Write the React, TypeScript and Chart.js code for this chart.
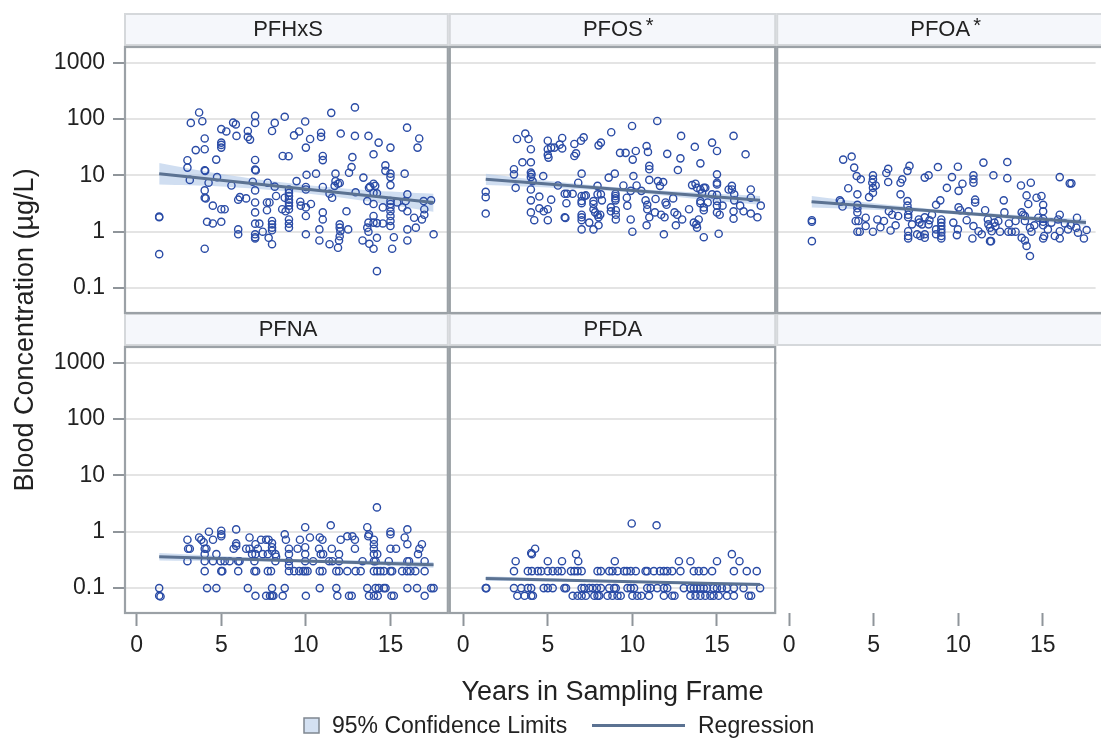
import { useEffect, useRef } from "react";
import { Chart, registerables } from "chart.js";

Chart.register(...registerables);

const FONT = '"Liberation Sans", Arial, Helvetica, sans-serif';
const TEXT = "#222222";
const MARKER = "#2b4ca6";
const FIT_LINE = "#5b7292";
const BAND_FILL = "rgba(176, 200, 232, 0.6)";
const GRID = "#e4e4e4";
const FRAME = "#9ba1a6";
const STRIP_FILL = "#f5f7fb";
const STRIP_EDGE = "#d5d8db";
const TICK_MARK = "#8f959a";

const WIDTH = 1101;
const HEIGHT = 738;
const STRIP_H = 34;

// Axis ticks
const Y_TICKS = [0.1, 1, 10, 100, 1000];
const X_TICKS = [0, 5, 10, 15];

// Visible year range of each panel column
const COLUMN_YEARS: [number, number][] = [
  [-0.75, 18.45],
  [-0.85, 18.5],
  [-0.76, 18.12],
];
// Concentration range of each panel row (row 2 also spans its strip)
const ROW1_RANGE: [number, number] = [0.0362, 1884];
const ROW2_RANGE: [number, number] = [0.0362, 7550];

// [years, µg/L]
const PFHXS_POINTS: [number, number][] = [
  [1.33, 1.85], [1.33, 1.8], [1.33, 0.4], [3.0, 18.5], [3.0, 13.7], [3.14, 8.3], [3.2, 85], [3.69, 130],
  [3.88, 91], [3.49, 28], [4.02, 45], [4.02, 29], [4.02, 12.3], [4.05, 12.0], [4.02, 5.4], [4.02, 4.0],
  [4.08, 3.9], [4.25, 7.4], [4.16, 1.5], [4.02, 0.5], [4.5, 2.9], [4.5, 1.4], [4.75, 9.3], [4.7, 19],
  [5.0, 38], [5.0, 34.6], [5.0, 31], [5.0, 1.5], [5.0, 2.5], [5.2, 2.5], [5.3, 60], [5.0, 66],
  [5.6, 6.6], [5.7, 86], [5.86, 80], [5.9, 50], [6.0, 1.1], [6.0, 0.9], [6.0, 3.7], [6.1, 4.1],
  [6.47, 3.9], [6.57, 61], [6.57, 48], [6.7, 43], [7.0, 113], [7.0, 85], [7.0, 18.7], [7.0, 12.6],
  [7.04, 12.2], [7.0, 5.4], [7.0, 3.3], [7.0, 2.2], [6.86, 7.7], [7.0, 1.39], [7.25, 1.39], [7.0, 0.9],
  [7.0, 0.8], [7.0, 0.76], [7.45, 1.0], [7.74, 7.4], [7.7, 3.3], [7.85, 3.3], [7.7, 2.4], [7.8, 0.78],
  [8.0, 61], [8.16, 85], [8.16, 6.3], [8.24, 4.3], [8.0, 1.55], [8.0, 1.35], [8.0, 1.18], [8.0, 1.06],
  [8.0, 0.6], [8.63, 22], [8.98, 21.8], [8.75, 109], [8.75, 4.0], [8.6, 2.5], [8.8, 2.3], [9.0, 5.6],
  [9.0, 4.9], [9.0, 4.3], [9.0, 3.7], [9.0, 3.3], [9.0, 2.9], [9.0, 2.5], [9.0, 1.65], [9.0, 1.39],
  [9.0, 1.18], [9.3, 51], [9.6, 60], [9.45, 7.9], [9.67, 3.4], [9.7, 2.9], [9.96, 90], [10.0, 31],
  [10.25, 44], [10.0, 6.2], [10.0, 5.6], [10.0, 2.7], [10.0, 1.9], [10.0, 0.9], [10.04, 10.2], [10.3, 3.1],
  [10.6, 10.7], [10.9, 57], [10.9, 48], [11.0, 22], [11.0, 18.6], [11.0, 6.2], [11.0, 2.2], [11.0, 1.65],
  [10.8, 1.1], [10.8, 0.7], [11.5, 128], [11.4, 4.7], [11.55, 4.0], [11.4, 0.6], [11.75, 10.7], [11.75, 7.9],
  [11.9, 7.1], [12.0, 7.3], [11.7, 6.5], [11.9, 0.52], [12.0, 1.35], [12.0, 1.18], [12.04, 1.02], [12.0, 0.83],
  [11.96, 0.7], [12.06, 55], [12.4, 2.3], [12.5, 1.1], [12.75, 21], [12.7, 14], [12.55, 11.1], [12.9, 160],
  [12.9, 50], [12.94, 5.0], [13.4, 9.1], [13.7, 50], [13.35, 0.7], [13.63, 3.5], [13.73, 6.0], [13.8, 6.3],
  [14.0, 23.6], [14.3, 38], [14.0, 7.1], [14.1, 6.5], [14.0, 4.9], [14.2, 4.8], [14.0, 3.1], [14.0, 1.9],
  [13.7, 1.45], [13.63, 1.18], [13.7, 1.0], [14.0, 1.45], [14.2, 1.42], [13.75, 0.61], [14.0, 0.5], [14.2, 0.78],
  [14.2, 0.2], [14.55, 1.4], [14.55, 2.7], [14.7, 15], [14.7, 12], [15.0, 31], [15.0, 10.7], [15.0, 9.3],
  [15.0, 6.7], [15.0, 3.5], [15.0, 3.1], [15.0, 2.7], [15.0, 2.3], [15.0, 1.9], [15.0, 1.55], [15.0, 1.26],
  [15.1, 0.5], [15.2, 0.8], [15.4, 3.3], [15.7, 2.7], [15.84, 10.7], [15.98, 70], [16.0, 4.6], [15.9, 3.5],
  [16.0, 2.3], [16.0, 1.1], [16.0, 0.7], [16.4, 1.77], [16.5, 1.18], [16.7, 45], [16.6, 31], [16.86, 1.65],
  [17.0, 2.5], [17.0, 2.0], [16.96, 3.5], [17.4, 3.6], [17.55, 0.9],
];

const PFOS_POINTS: [number, number][] = [
  [1.33, 5.1], [1.33, 4.1], [1.33, 2.1], [3.18, 44], [3.0, 12.8], [3.0, 10.4], [3.1, 6.0], [3.5, 17],
  [3.67, 55], [3.86, 44], [4.0, 29], [4.0, 17], [4.0, 11.2], [4.04, 10.4], [4.0, 9.3], [4.1, 7.9],
  [4.0, 5.6], [4.0, 3.6], [4.0, 2.2], [4.2, 1.6], [4.5, 4.2], [4.5, 2.6], [4.76, 2.3], [5.0, 2.5],
  [4.73, 9.7], [5.0, 41], [5.0, 29], [5.0, 23], [5.04, 20.6], [5.2, 31], [5.39, 31], [5.0, 1.6],
  [5.2, 3.7], [5.6, 6.6], [5.85, 46], [5.85, 30], [5.7, 35], [6.0, 4.7], [6.14, 4.7], [6.0, 1.8],
  [6.04, 1.75], [6.1, 3.2], [6.47, 4.7], [6.57, 36], [7.12, 47], [6.96, 41], [6.57, 22], [6.67, 24.5],
  [6.8, 7.4], [7.0, 10.7], [7.0, 4.3], [7.0, 3.5], [7.0, 3.2], [7.16, 4.3], [7.0, 2.0], [7.0, 1.8],
  [7.0, 1.6], [7.0, 1.1], [7.25, 4.4], [7.45, 1.45], [7.7, 3.5], [7.7, 3.1], [7.7, 2.5], [7.8, 2.2],
  [7.7, 1.1], [7.94, 4.6], [8.14, 4.6], [8.0, 34], [8.14, 38], [7.94, 6.5], [7.94, 2.0], [8.1, 2.0],
  [8.0, 1.8], [8.0, 1.3], [8.2, 3.6], [8.6, 9.1], [8.73, 2.7], [8.73, 2.3], [8.75, 58], [8.96, 10.7],
  [9.0, 4.7], [9.0, 4.3], [9.0, 3.9], [9.0, 3.6], [9.02, 2.4], [9.02, 2.0], [9.02, 1.65], [9.27, 25],
  [9.6, 25], [9.47, 6.6], [9.67, 4.0], [9.7, 2.9], [9.98, 75], [10.02, 19], [10.06, 9.7], [9.9, 5.3],
  [9.9, 1.65], [10.0, 1.0], [10.2, 27], [10.25, 6.6], [10.53, 5.3], [10.78, 3.6], [10.88, 3.0], [10.88, 2.5],
  [10.84, 33], [10.92, 26], [11.0, 14.7], [11.0, 12.8], [11.0, 8.3], [11.0, 1.8], [10.84, 1.3], [11.37, 3.8],
  [11.33, 2.2], [11.47, 92], [11.51, 7.9], [11.63, 6.5], [11.82, 7.6], [11.7, 2.0], [11.9, 1.8], [11.96, 3.3],
  [12.02, 3.0], [11.86, 0.9], [12.06, 24], [12.41, 3.9], [12.49, 2.2], [12.65, 2.0], [12.69, 12.4], [12.84, 20],
  [12.88, 50], [12.94, 1.65], [12.57, 1.3], [13.35, 2.5], [13.53, 6.7], [13.73, 7.1], [13.82, 6.0], [13.69, 32],
  [14.02, 16.3], [13.63, 1.45], [13.82, 1.18], [13.78, 1.35], [14.02, 5.6], [14.12, 4.9], [14.02, 3.5], [14.02, 3.2],
  [14.22, 2.7], [14.22, 2.4], [14.22, 6.0], [14.31, 6.0], [13.92, 1.65], [14.22, 0.8], [14.45, 3.3], [14.71, 38],
  [15.0, 27], [15.0, 10.4], [15.0, 7.4], [15.0, 6.9], [15.0, 4.5], [15.0, 3.5], [15.0, 2.9], [15.0, 2.2],
  [15.16, 2.0], [14.71, 4.6], [15.1, 0.92], [15.33, 2.9], [15.69, 5.6], [15.88, 6.5], [15.88, 5.6], [15.98, 50],
  [16.02, 4.6], [16.02, 3.6], [15.98, 2.3], [15.98, 1.7], [16.37, 2.9], [16.57, 2.3], [16.69, 23.6], [17.0, 5.6],
  [17.0, 4.0], [17.0, 2.1], [17.39, 1.8], [17.59, 2.9],
];

const PFOA_POINTS: [number, number][] = [
  [1.35, 1.6], [1.35, 1.5], [1.35, 0.68], [3.2, 19], [3.7, 21.5], [3.85, 13.7], [3.5, 5.9], [3.0, 3.6],
  [3.06, 3.4], [3.16, 2.8], [4.0, 9.7], [4.24, 8.5], [4.04, 4.6], [4.04, 3.0], [4.04, 2.6], [4.04, 2.2],
  [3.94, 1.55], [4.1, 1.55], [4.04, 1.0], [4.18, 1.0], [4.53, 1.77], [4.53, 1.26], [4.73, 4.1], [4.96, 10],
  [4.96, 8.5], [4.92, 7.4], [4.96, 6.0], [4.96, 4.9], [5.12, 6.6], [4.96, 1.0], [5.22, 1.65], [5.61, 1.55],
  [5.75, 11], [5.86, 13], [5.86, 7.6], [6.0, 1.05], [6.1, 2.0], [6.45, 1.9], [6.59, 4.6], [6.59, 7.4],
  [6.69, 8.5], [7.0, 12], [7.12, 14.7], [7.0, 3.5], [7.0, 2.9], [7.08, 2.4], [7.04, 2.0], [7.04, 1.8],
  [7.04, 1.02], [7.04, 0.84], [7.04, 0.76], [7.27, 1.35], [7.67, 1.65], [7.71, 1.45], [7.86, 1.35], [7.57, 0.9],
  [7.76, 0.84], [8.02, 9.1], [8.25, 10], [8.02, 1.8], [8.02, 0.9], [8.02, 0.78], [8.25, 1.35], [8.45, 2.0],
  [8.69, 3.0], [8.8, 14], [8.94, 3.6], [9.0, 1.65], [9.0, 1.45], [9.0, 1.26], [9.0, 1.1], [9.0, 0.97],
  [9.0, 0.84], [9.0, 0.76], [8.69, 1.1], [8.69, 0.9], [9.33, 6.0], [9.63, 9.3], [9.71, 1.45], [9.92, 0.87],
  [9.98, 14.2], [10.02, 5.3], [10.02, 2.7], [10.12, 2.4], [9.98, 1.1], [10.25, 7.1], [10.61, 2.3], [10.9, 10],
  [10.9, 8.5], [10.9, 7.4], [11.0, 3.7], [11.0, 3.3], [10.9, 1.26], [10.84, 0.76], [11.2, 1.02], [11.39, 0.9],
  [11.49, 16.8], [11.59, 2.4], [11.75, 1.65], [11.78, 1.35], [11.88, 1.18], [11.98, 1.02], [11.88, 0.68], [11.94, 0.68],
  [12.08, 10], [12.14, 1.45], [12.37, 1.55], [12.47, 1.0], [12.69, 3.6], [12.73, 2.2], [12.9, 17.2], [12.9, 8.9],
  [12.96, 1.0], [13.16, 1.0], [13.39, 1.0], [13.39, 1.55], [13.71, 6.6], [13.75, 2.2], [13.84, 2.0], [13.94, 1.9],
  [13.75, 0.78], [13.94, 0.7], [14.04, 0.56], [14.24, 0.37], [14.04, 4.4], [14.14, 3.1], [14.29, 7.4], [13.94, 1.55],
  [14.24, 1.18], [14.33, 1.0], [14.63, 4.0], [14.92, 4.3], [15.02, 3.0], [15.02, 2.3], [15.02, 1.7], [15.02, 1.5],
  [15.02, 1.3], [15.02, 0.76], [15.08, 0.84], [14.73, 1.77], [15.51, 1.45], [15.71, 0.84], [16.0, 9.3], [16.0, 2.0],
  [16.0, 1.02], [16.0, 0.76], [15.9, 1.65], [16.59, 7.2], [16.69, 7.2], [16.49, 1.1], [16.65, 1.3], [17.02, 1.77],
  [16.98, 1.18], [17.08, 0.96], [17.43, 0.76], [17.59, 1.07], [5.4, 1.2], [6.3, 1.3], [10.5, 1.6], [12.2, 1.25],
  [13.0, 1.4], [14.5, 1.3], [15.3, 1.1], [16.3, 1.4], [8.3, 1.6], [5.9, 2.3],
];

const PFNA_POINTS: [number, number][] = [
  [1.33, 0.1], [1.33, 0.073], [1.41, 0.071], [3.0, 0.72], [3.04, 0.5], [3.14, 0.5], [3.0, 0.3], [3.69, 0.79],
  [3.82, 0.72], [3.96, 0.65], [4.02, 0.5], [4.12, 0.5], [4.02, 0.4], [4.02, 0.3], [4.02, 0.2], [4.16, 0.1],
  [4.71, 0.1], [4.27, 1.0], [4.51, 0.72], [4.71, 0.4], [4.51, 0.3], [5.0, 1.04], [5.0, 0.9], [5.0, 0.83],
  [4.96, 0.3], [5.2, 0.3], [5.49, 0.3], [5.0, 0.2], [5.06, 0.2], [5.73, 0.5], [5.88, 0.56], [5.88, 0.62],
  [5.88, 1.1], [6.0, 0.3], [6.08, 0.3], [6.0, 0.2], [6.47, 0.5], [6.67, 0.5], [6.57, 0.1], [6.67, 0.79],
  [6.82, 0.4], [7.02, 0.4], [7.02, 0.6], [7.16, 0.5], [6.96, 0.3], [6.96, 0.2], [7.06, 0.2], [7.02, 0.073],
  [7.35, 0.72], [7.65, 0.72], [7.8, 0.72], [7.45, 0.4], [7.75, 0.4], [7.65, 0.073], [7.88, 0.073], [7.75, 0.2],
  [7.94, 0.2], [8.0, 0.63], [8.0, 0.53], [8.0, 0.46], [8.0, 0.1], [8.0, 0.073], [8.08, 0.073], [8.2, 0.4],
  [8.24, 0.36], [8.2, 0.3], [8.63, 0.073], [8.75, 0.9], [8.75, 0.1], [8.82, 0.72], [9.0, 0.5], [9.0, 0.4],
  [9.0, 0.3], [9.0, 0.25], [9.0, 0.2], [9.31, 0.2], [9.61, 0.2], [9.84, 0.2], [9.51, 0.5], [9.65, 0.72],
  [9.96, 1.2], [9.96, 0.53], [9.96, 0.4], [9.96, 0.3], [9.96, 0.2], [10.1, 0.2], [10.0, 0.073], [10.24, 0.79],
  [10.43, 0.3], [10.82, 0.79], [10.98, 0.72], [10.78, 0.5], [10.88, 0.4], [11.02, 0.4], [10.82, 0.1], [10.82, 0.2],
  [10.98, 0.2], [11.37, 0.3], [11.57, 0.3], [11.47, 1.3], [11.53, 0.5], [11.8, 0.2], [11.96, 0.2], [11.8, 0.1],
  [11.86, 0.073], [11.96, 0.4], [11.96, 0.3], [12.06, 0.72], [12.45, 0.2], [12.45, 0.83], [12.75, 0.83], [12.9, 0.72],
  [12.55, 0.073], [12.71, 0.073], [12.9, 0.5], [12.94, 0.2], [13.24, 0.2], [13.35, 0.3], [13.63, 1.2], [13.73, 0.9],
  [13.69, 0.83], [13.63, 0.1], [13.73, 0.073], [14.02, 0.72], [14.02, 0.6], [14.02, 0.5], [14.02, 0.4], [14.22, 0.4],
  [14.02, 0.3], [14.12, 0.3], [14.02, 0.2], [14.22, 0.2], [14.41, 0.2], [14.61, 0.2], [14.12, 0.1], [14.31, 0.1],
  [14.61, 0.1], [14.71, 0.1], [14.02, 0.073], [14.25, 0.073], [14.2, 2.7], [14.9, 0.3], [15.0, 1.0], [15.0, 0.9],
  [15.0, 0.5], [15.0, 0.2], [15.1, 0.2], [15.06, 0.073], [15.2, 0.073], [15.33, 0.5], [15.69, 0.2], [15.98, 0.2],
  [16.18, 0.2], [16.47, 0.2], [16.0, 1.1], [15.84, 0.79], [16.0, 0.6], [16.0, 0.3], [16.1, 0.3], [16.0, 0.1],
  [16.57, 0.1], [16.63, 0.4], [16.71, 0.5], [16.86, 0.6], [17.02, 0.3], [17.02, 0.2], [17.02, 0.073], [17.41, 0.1],
  [17.55, 0.1],
];

const PFDA_POINTS: [number, number][] = [
  [1.33, 0.1], [1.37, 0.1], [3.0, 0.1], [3.2, 0.073], [3.43, 0.1], [3.63, 0.073], [3.82, 0.1], [4.02, 0.1],
  [4.12, 0.073], [4.02, 0.073], [3.1, 0.3], [3.0, 0.2], [3.82, 0.2], [4.06, 0.2], [4.41, 0.2], [4.61, 0.2],
  [4.06, 0.4], [4.02, 0.42], [4.25, 0.5], [4.76, 0.1], [5.0, 0.1], [5.29, 0.1], [5.0, 0.3], [5.0, 0.2],
  [5.29, 0.2], [5.59, 0.2], [5.82, 0.2], [5.84, 0.3], [5.98, 0.1], [6.08, 0.1], [6.47, 0.073], [6.76, 0.073],
  [6.67, 0.4], [6.8, 0.3], [6.37, 0.2], [6.57, 0.2], [6.76, 0.2], [7.0, 0.2], [7.0, 0.1], [7.16, 0.1],
  [7.45, 0.1], [7.65, 0.1], [7.9, 0.1], [8.14, 0.1], [7.0, 0.073], [7.25, 0.073], [7.75, 0.073], [7.94, 0.073],
  [8.04, 0.073], [7.94, 0.2], [8.14, 0.2], [8.63, 0.2], [8.82, 0.2], [9.12, 0.2], [9.51, 0.2], [8.63, 0.1],
  [8.92, 0.1], [9.02, 0.1], [8.53, 0.073], [8.82, 0.073], [9.12, 0.073], [9.31, 0.073], [8.96, 0.3], [9.71, 0.1],
  [9.9, 0.1], [10.1, 0.1], [9.67, 0.2], [9.9, 0.2], [10.2, 0.2], [9.96, 1.4], [10.0, 0.073], [10.29, 0.073],
  [10.53, 0.073], [10.98, 0.073], [10.78, 0.2], [10.88, 0.2], [11.27, 0.2], [11.63, 0.2], [11.86, 0.2], [12.06, 0.2],
  [10.88, 0.1], [11.08, 0.1], [11.47, 0.1], [11.86, 0.1], [12.06, 0.1], [11.43, 1.3], [11.86, 0.073], [12.35, 0.073],
  [12.49, 0.073], [12.35, 0.2], [12.84, 0.2], [12.75, 0.3], [13.04, 0.1], [13.43, 0.1], [13.43, 0.3], [13.63, 0.2],
  [13.92, 0.2], [14.22, 0.2], [14.71, 0.2], [13.63, 0.1], [13.82, 0.1], [14.02, 0.1], [14.22, 0.1], [14.41, 0.1],
  [14.8, 0.1], [15.0, 0.1], [15.29, 0.1], [13.43, 0.073], [13.73, 0.073], [14.02, 0.073], [14.31, 0.073], [14.61, 0.073],
  [14.8, 0.073], [15.1, 0.073], [15.0, 0.3], [15.88, 0.4], [16.33, 0.3], [16.0, 0.2], [16.76, 0.2], [17.35, 0.2],
  [15.59, 0.1], [16.0, 0.1], [16.57, 0.1], [17.55, 0.1], [15.59, 0.073], [16.0, 0.073], [16.88, 0.073], [17.02, 0.073],
];

// Regression fits (end points) and 95% confidence limits
const FIT_YEARS = [1.33, 17.55];
const BAND_YEARS = [1.33, 5, 9.4, 13.5, 17.55];

const PFHXS_FIT = [10.7, 3.3];
const PFHXS_LOW = [6.9, 6.35, 5.0, 3.5, 2.25];
const PFHXS_HIGH = [16.6, 10.5, 7.0, 5.5, 4.7];

const PFOS_FIT = [8.5, 3.6];
const PFOS_LOW = [6.75, 6.1, 5.1, 3.9, 3.0];
const PFOS_HIGH = [10.7, 8.0, 6.0, 5.0, 4.3];

const PFOA_FIT = [3.4, 1.45];
const PFOA_LOW = [2.7, 2.45, 2.08, 1.64, 1.28];
const PFOA_HIGH = [4.3, 3.2, 2.4, 1.97, 1.64];

const PFNA_FIT = [0.36, 0.26];
const PFNA_LOW = [0.31, 0.3, 0.29, 0.26, 0.23];
const PFNA_HIGH = [0.42, 0.37, 0.325, 0.31, 0.29];

const PFDA_FIT = [0.148, 0.116];
const PFDA_LOW = [0.135, 0.131, 0.127, 0.117, 0.108];
const PFDA_HIGH = [0.162, 0.15, 0.135, 0.13, 0.124];

type Panel = {
  name: string;
  starred: boolean;
  col: number;
  row: number;
  points: [number, number][];
  fit: number[];
  low: number[];
  high: number[];
};

const PANELS: Panel[] = [
  { name: "PFHxS", starred: false, col: 0, row: 0, points: PFHXS_POINTS, fit: PFHXS_FIT, low: PFHXS_LOW, high: PFHXS_HIGH },
  { name: "PFOS", starred: true, col: 1, row: 0, points: PFOS_POINTS, fit: PFOS_FIT, low: PFOS_LOW, high: PFOS_HIGH },
  { name: "PFOA", starred: true, col: 2, row: 0, points: PFOA_POINTS, fit: PFOA_FIT, low: PFOA_LOW, high: PFOA_HIGH },
  { name: "PFNA", starred: false, col: 0, row: 1, points: PFNA_POINTS, fit: PFNA_FIT, low: PFNA_LOW, high: PFNA_HIGH },
  { name: "PFDA", starred: false, col: 1, row: 1, points: PFDA_POINTS, fit: PFDA_FIT, low: PFDA_LOW, high: PFDA_HIGH },
];

function buildDatasets() {
  const sets: any[] = [];
  for (const p of PANELS) {
    const xAxisID = `x${p.col + 1}`;
    const yAxisID = `y${p.row + 1}`;
    sets.push(
      {
        type: "line",
        data: BAND_YEARS.map((x, i) => ({ x, y: p.low[i] })),
        xAxisID,
        yAxisID,
        borderWidth: 0,
        borderColor: "rgba(0,0,0,0)",
        pointRadius: 0,
        fill: false,
        tension: 0.35,
        order: 3,
      },
      {
        type: "line",
        data: BAND_YEARS.map((x, i) => ({ x, y: p.high[i] })),
        xAxisID,
        yAxisID,
        borderWidth: 0,
        borderColor: "rgba(0,0,0,0)",
        backgroundColor: BAND_FILL,
        pointRadius: 0,
        fill: "-1",
        tension: 0.35,
        order: 3,
      },
      {
        type: "scatter",
        data: p.points.map(([x, y]) => ({ x, y })),
        xAxisID,
        yAxisID,
        pointStyle: "circle",
        pointRadius: 3.6,
        pointBorderWidth: 1.4,
        pointBorderColor: MARKER,
        pointBackgroundColor: "rgba(0,0,0,0)",
        order: 2,
      },
      {
        type: "line",
        data: FIT_YEARS.map((x, i) => ({ x, y: p.fit[i] })),
        xAxisID,
        yAxisID,
        borderColor: FIT_LINE,
        borderWidth: 3,
        pointRadius: 0,
        fill: false,
        order: 1,
      }
    );
  }
  return sets;
}

function xScale(col: number) {
  const [min, max] = COLUMN_YEARS[col];
  return {
    type: "linear",
    position: "bottom",
    stack: "columns",
    stackWeight: max - min,
    min,
    max,
    afterBuildTicks: (s: any) => {
      s.ticks = X_TICKS.map((value) => ({ value }));
    },
    afterFit: (s: any) => {
      s.height = 60;
    },
    grid: {
      drawOnChartArea: false,
      drawTicks: true,
      tickLength: 13,
      tickColor: TICK_MARK,
      tickWidth: 2,
    },
    border: { display: false },
    ticks: {
      font: { family: FONT, size: 23 },
      color: TEXT,
      padding: 6,
      maxRotation: 0,
      autoSkip: false,
      callback: (v: any) => String(v),
    },
  };
}

function yScale(row: number) {
  const [min, max] = row === 0 ? ROW1_RANGE : ROW2_RANGE;
  return {
    type: "logarithmic",
    position: "left",
    stack: "rows",
    stackWeight: row === 0 ? 266 : 300,
    weight: row === 0 ? 1 : 0,
    min,
    max,
    afterBuildTicks: (s: any) => {
      s.ticks = Y_TICKS.map((value) => ({ value }));
    },
    afterFit: (s: any) => {
      s.width = 124;
    },
    grid: {
      color: GRID,
      lineWidth: 2,
      drawTicks: true,
      tickLength: 11,
      tickColor: TICK_MARK,
      tickWidth: 2,
    },
    border: { display: false },
    ticks: {
      font: { family: FONT, size: 23 },
      color: TEXT,
      padding: 8,
      autoSkip: false,
      callback: (v: any) => String(v),
    },
  };
}

const panelDecor = {
  id: "panelDecor",
  beforeDatasetsDraw(chart: any) {
    // the sixth cell stays blank
    const { ctx } = chart;
    const x3 = chart.scales.x3;
    const y2 = chart.scales.y2;
    ctx.save();
    ctx.fillStyle = "#ffffff";
    ctx.fillRect(x3.left + 1, y2.top + STRIP_H - 1, WIDTH - x3.left, y2.bottom - y2.top - STRIP_H + 1);
    ctx.restore();
  },
  afterDraw(chart: any) {
    const { ctx } = chart;
    const cols = ["x1", "x2", "x3"].map((id) => chart.scales[id]);
    const y1 = chart.scales.y1;
    const y2 = chart.scales.y2;
    const rows = [
      { top: y1.top, bottom: y1.bottom, stripTop: y1.top - STRIP_H },
      { top: y2.top + STRIP_H, bottom: y2.bottom, stripTop: y2.top },
    ];
    const colRight = (c: number) => (c === 2 ? cols[c].right + 8 : cols[c].right);

    ctx.save();
    // header strips
    rows.forEach((r) => {
      cols.forEach((col: any, c: number) => {
        const l = col.left + 1;
        const w = colRight(c) - col.left - 2;
        ctx.fillStyle = STRIP_FILL;
        ctx.fillRect(l, r.stripTop + 1, w, STRIP_H - 3);
        ctx.strokeStyle = STRIP_EDGE;
        ctx.lineWidth = 2;
        ctx.strokeRect(l, r.stripTop + 1, w, STRIP_H - 3);
      });
    });

    // panel frames
    ctx.strokeStyle = FRAME;
    ctx.lineWidth = 2.2;
    rows.forEach((r, ri) => {
      cols.forEach((col: any, c: number) => {
        if (ri === 1 && c === 2) return;
        ctx.strokeRect(col.left + 1, r.top, colRight(c) - col.left - 2, r.bottom - r.top);
      });
    });

    // header labels
    ctx.fillStyle = TEXT;
    ctx.textAlign = "center";
    ctx.textBaseline = "alphabetic";
    PANELS.forEach((p) => {
      const col = cols[p.col];
      const cx = col.left + 164;
      const base = rows[p.row].stripTop + 23;
      ctx.font = `22px ${FONT}`;
      ctx.fillText(p.name, cx, base);
      if (p.starred) {
        const w = ctx.measureText(p.name).width;
        ctx.font = `20px ${FONT}`;
        ctx.textAlign = "left";
        ctx.fillText("*", cx + w / 2 + 3, base - 4);
        ctx.textAlign = "center";
      }
    });

    // axis titles
    ctx.font = `27px ${FONT}`;
    ctx.textAlign = "center";
    ctx.fillText("Years in Sampling Frame", (cols[1].left + cols[1].right) / 2, 700);
    ctx.save();
    ctx.translate(33, (y1.top + y2.bottom) / 2);
    ctx.rotate(-Math.PI / 2);
    ctx.fillText("Blood Concentration (\u00b5g/L)", 0, 0);
    ctx.restore();

    // legend
    ctx.fillStyle = "#d4e1f2";
    ctx.fillRect(304, 718, 15, 15);
    ctx.strokeStyle = "#7f8790";
    ctx.lineWidth = 1.5;
    ctx.strokeRect(304, 718, 15, 15);
    ctx.fillStyle = TEXT;
    ctx.font = `23px ${FONT}`;
    ctx.textAlign = "left";
    ctx.fillText("95% Confidence Limits", 332, 733);
    ctx.strokeStyle = FIT_LINE;
    ctx.lineWidth = 3;
    ctx.beginPath();
    ctx.moveTo(592, 725.5);
    ctx.lineTo(685, 725.5);
    ctx.stroke();
    ctx.fillText("Regression", 698, 733);
    ctx.restore();
  },
};

export default function App() {
  const canvasRef = useRef<HTMLCanvasElement>(null);

  useEffect(() => {
    const canvas = canvasRef.current;
    if (!canvas) return;
    const chart = new Chart(canvas, {
      type: "scatter",
      data: { datasets: buildDatasets() },
      options: {
        animation: false,
        responsive: false,
        devicePixelRatio: 1,
        events: [],
        layout: { padding: { top: 47, left: 0, right: 0, bottom: 65 } },
        plugins: {
          legend: { display: false },
          tooltip: { enabled: false },
        },
        scales: {
          x1: xScale(0),
          x2: xScale(1),
          x3: xScale(2),
          y1: yScale(0),
          y2: yScale(1),
        } as any,
      },
      plugins: [panelDecor],
    } as any);
    return () => chart.destroy();
  }, []);

  return (
    <div style={{ position: "absolute", left: 0, top: 0, width: WIDTH, height: HEIGHT, background: "#ffffff" }}>
      <canvas ref={canvasRef} width={WIDTH} height={HEIGHT} style={{ display: "block", width: WIDTH, height: HEIGHT }} />
    </div>
  );
}
